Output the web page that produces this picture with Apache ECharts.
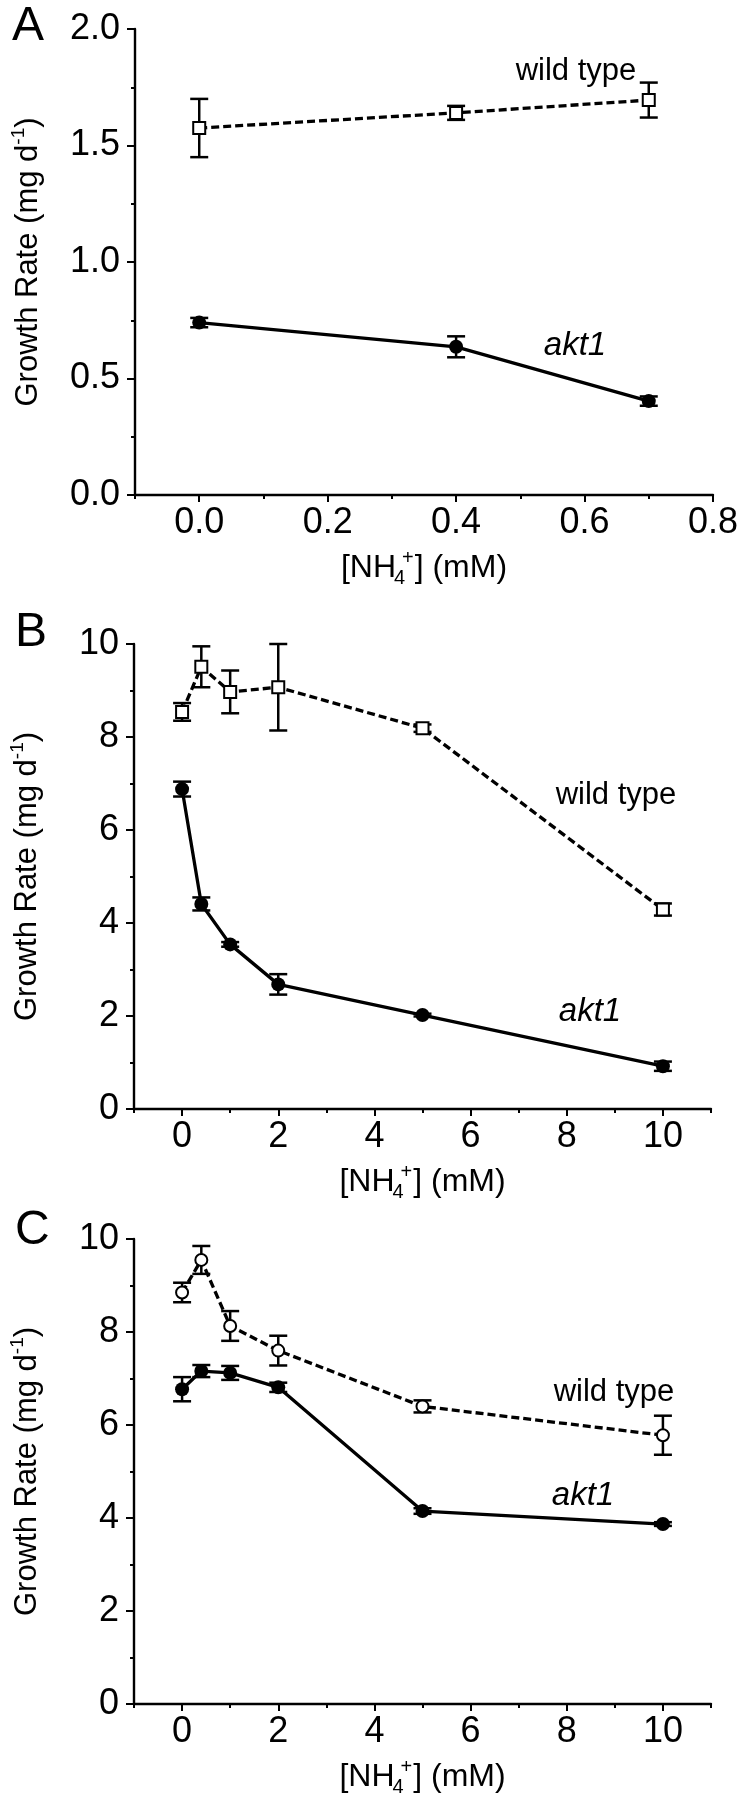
<!DOCTYPE html>
<html><head><meta charset="utf-8">
<script src="https://cdn.jsdelivr.net/npm/echarts@6/dist/echarts.min.js"></script>
<style>html,body{margin:0;padding:0;background:#fff}#c{width:741px;height:1800px}</style>
</head><body><div id="c"></div>
<script>
// ---- data ----
const xA = [0, 0.4, 0.7];
const wtA = [1.575, 1.64, 1.695];
const wtAerr = [0.125, 0.03, 0.075];
const akA = [0.74, 0.636, 0.403];
const akAerr = [0.02, 0.045, 0.02];

const xBC = [0, 0.4, 1, 2, 5, 10];
const wtB = [8.54, 9.51, 8.97, 9.07, 8.19, 4.29];
const wtBerr = [0.19, 0.44, 0.46, 0.93, 0.08, 0.13];
const akB = [6.88, 4.41, 3.54, 2.68, 2.02, 0.92];
const akBerr = [0.16, 0.14, 0.05, 0.22, 0.03, 0.1];

const wtC = [8.85, 9.55, 8.13, 7.6, 6.4, 5.78];
const wtCerr = [0.21, 0.3, 0.32, 0.32, 0.13, 0.42];
const akC = [6.77, 7.16, 7.12, 6.81, 4.15, 3.87];
const akCerr = [0.26, 0.13, 0.15, 0.1, 0.06, 0.04];

const xLabelsA = [0, 0.2, 0.4, 0.6, 0.8];
const xLabelsBC = [0, 2, 4, 6, 8, 10];
const panelLetters = ['A', 'B', 'C'];
const seriesNames = ['wild type', 'akt1'];
const yTitle = 'Growth Rate (mg d{sup|-1})';
const xTitle = '[NH{sub|4}{sup|+}] (mM)';

// ---- layout ----
const FONT = "'Liberation Sans Narrow', 'Arial Narrow', 'Liberation Sans', Arial, sans-serif";
const FONT_REG = "'Liberation Sans', Arial, sans-serif";
const grids = [
  {left: 135, top: 29, width: 579, height: 466},
  {left: 134, top: 644, width: 577, height: 465},
  {left: 133, top: 1239, width: 578, height: 465}
];
const xCfg = [
  {min: -0.1, max: 0.8, interval: 0.1, majors: xLabelsA, fmt: v => v.toFixed(1)},
  {min: -1, max: 11, interval: 1, majors: xLabelsBC, fmt: v => String(v)},
  {min: -1, max: 11, interval: 1, majors: xLabelsBC, fmt: v => String(v)}
];
const yCfg = [
  {max: 2, interval: 0.5, fmt: v => v.toFixed(1)},
  {max: 10, interval: 2, fmt: v => String(v)},
  {max: 10, interval: 2, fmt: v => String(v)}
];
const black = '#000';
const axisLineStyle = {color: black, width: 2.4};
const tickStyle = {color: black, width: 2};

const xAxes = [], yAxes = [];
xCfg.forEach((c, g) => {
  xAxes.push({
    gridIndex: g, type: 'value', min: c.min, max: c.max, interval: c.interval, position: 'bottom',
    axisLine: {show: true, onZero: false, lineStyle: axisLineStyle},
    axisTick: {show: true, length: 4, lineStyle: tickStyle},
    axisLabel: {show: false}, splitLine: {show: false},
    name: xTitle, nameLocation: 'middle', nameGap: 53,
    nameTextStyle: {fontSize: 32, fontFamily: FONT, color: black, lineHeight: 40,
      rich: {sub: {fontSize: 20, fontFamily: FONT, color: black, verticalAlign: 'bottom', lineHeight: 20, width: 3, padding: [0, 0, 0, 2]},
             sup: {fontSize: 20, fontFamily: FONT, color: black, verticalAlign: 'top', lineHeight: 20, padding: [0, 1, 0, 1]}}}
  });
  xAxes.push({
    gridIndex: g, type: 'value', min: c.min, max: c.max, position: 'bottom',
    axisLine: {show: false, onZero: false},
    axisTick: {show: true, length: 7, customValues: c.majors, lineStyle: tickStyle},
    axisLabel: {show: true, customValues: c.majors, formatter: c.fmt, margin: 10,
      fontSize: 36, fontFamily: FONT, color: black},
    splitLine: {show: false}
  });
});
yCfg.forEach((c, g) => {
  yAxes.push({
    gridIndex: g, type: 'value', min: 0, max: c.max, interval: c.interval,
    axisLine: {show: true, onZero: false, lineStyle: axisLineStyle},
    axisTick: {show: true, length: 8, lineStyle: tickStyle},
    minorTick: {show: true, splitNumber: 2, length: 4, lineStyle: tickStyle},
    axisLabel: {formatter: c.fmt, margin: 15, fontSize: 36, fontFamily: FONT, color: black},
    splitLine: {show: false}, minorSplitLine: {show: false},
    name: yTitle, nameLocation: 'middle', nameRotate: 90, nameGap: 88,
    nameTextStyle: {fontSize: 31, fontFamily: FONT, color: black, lineHeight: 38,
      rich: {sup: {fontSize: 19, fontFamily: FONT, color: black, verticalAlign: 'top', lineHeight: 19}}}
  });
});

function errSeries(xs, ys, es, g) {
  return {
    type: 'custom', xAxisIndex: g * 2, yAxisIndex: g, z: 2, silent: true, animation: false,
    data: xs.map((x, i) => [x, ys[i] - es[i], ys[i] + es[i]]),
    encode: {x: 0, y: [1, 2]},
    renderItem: (params, api) => {
      const lo = api.coord([api.value(0), api.value(1)]);
      const hi = api.coord([api.value(0), api.value(2)]);
      const w = 9, st = {stroke: black, lineWidth: 2.5};
      return {type: 'group', children: [
        {type: 'line', shape: {x1: lo[0], y1: lo[1], x2: hi[0], y2: hi[1]}, style: st},
        {type: 'line', shape: {x1: lo[0] - w, y1: lo[1], x2: lo[0] + w, y2: lo[1]}, style: st},
        {type: 'line', shape: {x1: hi[0] - w, y1: hi[1], x2: hi[0] + w, y2: hi[1]}, style: st}
      ]};
    }
  };
}
function lineSeries(name, xs, ys, g, wt, symbol) {
  return {
    type: 'line', name, xAxisIndex: g * 2, yAxisIndex: g, z: 3, animation: false, silent: true,
    data: xs.map((x, i) => [x, ys[i]]),
    symbol: symbol, symbolSize: wt ? 12 : 14, showAllSymbol: true,
    itemStyle: wt ? {color: '#fff', borderColor: black, borderWidth: 2} : {color: black, borderColor: black, borderWidth: 0},
    lineStyle: {color: black, width: 3.3, type: wt ? [8, 4] : 'solid'}
  };
}

const series = [
  errSeries(xA, wtA, wtAerr, 0), errSeries(xA, akA, akAerr, 0),
  lineSeries(seriesNames[0], xA, wtA, 0, true, 'rect'), lineSeries(seriesNames[1], xA, akA, 0, false, 'circle'),
  errSeries(xBC, wtB, wtBerr, 1), errSeries(xBC, akB, akBerr, 1),
  lineSeries(seriesNames[0], xBC, wtB, 1, true, 'rect'), lineSeries(seriesNames[1], xBC, akB, 1, false, 'circle'),
  errSeries(xBC, wtC, wtCerr, 2), errSeries(xBC, akC, akCerr, 2),
  lineSeries(seriesNames[0], xBC, wtC, 2, true, 'circle'), lineSeries(seriesNames[1], xBC, akC, 2, false, 'circle')
];

// annotation text positions (pixels)
const letterPos = [[12, 27], [15, 633], [15, 1231]];
const wtPos = [[576, 71], [616, 795], [614, 1392]];
const akPos = [[575, 346], [590, 1012], [583, 1496]];
const graphic = [];
panelLetters.forEach((L, i) => {
  graphic.push({type: 'text', x: letterPos[i][0], y: letterPos[i][1],
    style: {text: L, font: '48px ' + FONT_REG, fill: black, textAlign: 'left', textVerticalAlign: 'middle'}});
  graphic.push({type: 'text', x: wtPos[i][0], y: wtPos[i][1],
    style: {text: seriesNames[0], font: '31px ' + FONT, fill: black, textAlign: 'center', textVerticalAlign: 'middle'}});
  graphic.push({type: 'text', x: akPos[i][0], y: akPos[i][1],
    style: {text: seriesNames[1], font: 'italic 33px ' + FONT, fill: black, textAlign: 'center', textVerticalAlign: 'middle'}});
});

const chart = echarts.init(document.getElementById('c'), null, {renderer: 'canvas'});
chart.setOption({
  backgroundColor: '#fff', animation: false,
  grid: grids, xAxis: xAxes, yAxis: yAxes, series, graphic
});
</script></body></html>
